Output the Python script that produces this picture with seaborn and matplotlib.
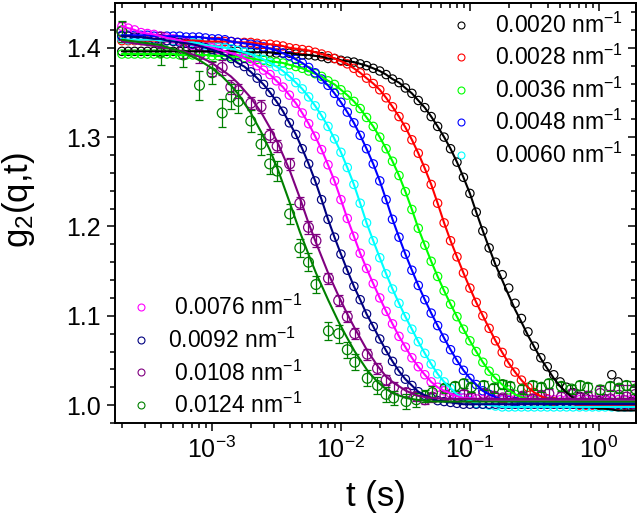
import matplotlib
matplotlib.use('Agg')
import matplotlib.pyplot as plt
from matplotlib.lines import Line2D
from matplotlib.ticker import MultipleLocator, LogLocator, NullFormatter, FormatStrFormatter
import seaborn as sns

# delay times (s) for the densely sampled low-q runs
t_dense = [2.00e-4, 2.24e-4, 2.51e-4, 2.82e-4, 3.16e-4, 3.55e-4, 3.98e-4, 4.47e-4, 5.01e-4, 5.62e-4,
           6.31e-4, 7.08e-4, 7.94e-4, 8.91e-4,
           1.00e-3, 1.12e-3, 1.26e-3, 1.41e-3, 1.58e-3, 1.78e-3, 2.00e-3, 2.24e-3, 2.51e-3, 2.82e-3,
           3.16e-3, 3.55e-3, 3.98e-3, 4.47e-3, 5.01e-3, 5.62e-3, 6.31e-3, 7.08e-3, 7.94e-3, 8.91e-3,
           1.00e-2, 1.12e-2, 1.26e-2, 1.41e-2, 1.58e-2, 1.78e-2, 2.00e-2, 2.24e-2, 2.51e-2, 2.82e-2,
           3.16e-2, 3.55e-2, 3.98e-2, 4.47e-2, 5.01e-2, 5.62e-2, 6.31e-2, 7.08e-2, 7.94e-2, 8.91e-2,
           1.00e-1, 1.12e-1, 1.26e-1, 1.41e-1, 1.58e-1, 1.78e-1, 2.00e-1, 2.24e-1, 2.51e-1, 2.82e-1,
           3.16e-1, 3.55e-1, 3.98e-1, 4.47e-1, 5.01e-1, 5.62e-1, 6.31e-1, 7.08e-1, 7.94e-1, 8.91e-1,
           1.00, 1.12, 1.26, 1.41, 1.58, 1.78, 2.00]

# delay times (s) for the two highest q (multi-tau, with error bars)
t_sparse = [2.0e-4, 4.0e-4, 6.0e-4, 8.0e-4, 1.0e-3, 1.2e-3, 1.4e-3, 1.6e-3,
            2.0e-3, 2.4e-3, 2.8e-3, 3.2e-3, 4.0e-3, 4.8e-3, 5.6e-3, 6.4e-3,
            8.0e-3, 9.6e-3, 0.0112, 0.0128, 0.016, 0.0192, 0.0224, 0.0256,
            0.032, 0.0384, 0.0448, 0.0512, 0.064, 0.0768, 0.0896, 0.1024,
            0.128, 0.1536, 0.1792, 0.2048, 0.256, 0.3072, 0.3584, 0.4096,
            0.512, 0.6144, 0.7168, 0.8192, 1.024, 1.2288, 1.4336, 1.6384, 1.92]

g2_0020 = [1.396, 1.396, 1.396, 1.396, 1.396, 1.396, 1.396, 1.396, 1.396, 1.396,
           1.396, 1.396, 1.396, 1.396, 1.396, 1.396, 1.396, 1.396, 1.396, 1.395,
           1.395, 1.395, 1.395, 1.395, 1.394, 1.394, 1.394, 1.393, 1.392, 1.392,
           1.391, 1.390, 1.388, 1.388, 1.386, 1.385, 1.384, 1.382, 1.380, 1.377,
           1.374, 1.370, 1.365, 1.361, 1.355, 1.349, 1.341, 1.333, 1.323, 1.312,
           1.300, 1.287, 1.272, 1.255, 1.237, 1.216, 1.195, 1.176, 1.157, 1.140,
           1.123, 1.107, 1.093, 1.078, 1.065, 1.052, 1.041, 1.030, 1.021, 1.014,
           1.008, 1.004, 1.000, 0.998, 0.996, 0.996, 0.995, 0.994, 0.994, 0.994,
           0.994]
# measured points of the 0.0020 run deviate from the fit in the tail
g2_0020_tail = [1.160, 1.146,
                1.131, 1.114, 1.097, 1.082, 1.066, 1.053, 1.043, 1.034, 1.026, 1.020,
                1.014, 1.010, 1.008, 1.006, 1.005, 1.007, 1.034, 1.026, 1.006, 1.004,
                1.008]

g2_0028 = [1.408, 1.408, 1.408, 1.408, 1.408, 1.408, 1.408, 1.408, 1.408, 1.408,
           1.408, 1.408, 1.408, 1.407, 1.407, 1.407, 1.407, 1.407, 1.406, 1.406,
           1.406, 1.405, 1.404, 1.404, 1.403, 1.402, 1.400, 1.399, 1.398, 1.397,
           1.395, 1.393, 1.391, 1.388, 1.385, 1.382, 1.377, 1.372, 1.366, 1.360,
           1.353, 1.344, 1.334, 1.323, 1.311, 1.297, 1.282, 1.265, 1.247, 1.226,
           1.204, 1.184, 1.166, 1.148, 1.131, 1.115, 1.100, 1.086, 1.072, 1.059,
           1.047, 1.037, 1.028, 1.020, 1.014, 1.010, 1.007, 1.004, 1.002, 1.002,
           1.001, 1.000, 1.000, 1.000, 1.000, 1.000, 1.000, 1.000, 1.000, 1.000,
           1.000]

g2_0036 = [1.393, 1.393, 1.393, 1.393, 1.393, 1.393, 1.393, 1.393, 1.393, 1.392,
           1.392, 1.392, 1.392, 1.392, 1.391, 1.391, 1.391, 1.390, 1.390, 1.389,
           1.388, 1.387, 1.386, 1.385, 1.384, 1.383, 1.381, 1.379, 1.377, 1.374,
           1.371, 1.368, 1.363, 1.359, 1.353, 1.347, 1.340, 1.332, 1.322, 1.312,
           1.300, 1.287, 1.273, 1.257, 1.239, 1.219, 1.198, 1.179, 1.161, 1.144,
           1.128, 1.113, 1.099, 1.085, 1.072, 1.060, 1.048, 1.038, 1.030, 1.023,
           1.017, 1.012, 1.009, 1.007, 1.005, 1.005, 1.004, 1.003, 1.003, 1.003,
           1.003, 1.003, 1.003, 1.003, 1.003, 1.003, 1.003, 1.003, 1.003, 1.003,
           1.003]

g2_0048 = [1.414, 1.414, 1.414, 1.414, 1.414, 1.413, 1.413, 1.413, 1.413, 1.413,
           1.412, 1.412, 1.412, 1.411, 1.410, 1.410, 1.409, 1.407, 1.406, 1.405,
           1.404, 1.403, 1.401, 1.399, 1.397, 1.394, 1.391, 1.387, 1.383, 1.378,
           1.372, 1.365, 1.358, 1.349, 1.339, 1.328, 1.316, 1.302, 1.287, 1.270,
           1.251, 1.230, 1.208, 1.188, 1.169, 1.151, 1.134, 1.118, 1.103, 1.089,
           1.075, 1.062, 1.050, 1.039, 1.030, 1.023, 1.016, 1.012, 1.009, 1.006,
           1.005, 1.004, 1.003, 1.002, 1.002, 1.002, 1.002, 1.002, 1.002, 1.002,
           1.002, 1.002, 1.002, 1.002, 1.002, 1.002, 1.002, 1.002, 1.002, 1.002,
           1.002]

g2_0060 = [1.410, 1.409, 1.409, 1.409, 1.409, 1.409, 1.408, 1.408, 1.408, 1.407,
           1.406, 1.406, 1.405, 1.403, 1.402, 1.401, 1.400, 1.399, 1.397, 1.395,
           1.393, 1.390, 1.387, 1.383, 1.379, 1.374, 1.368, 1.361, 1.354, 1.345,
           1.335, 1.324, 1.312, 1.298, 1.283, 1.266, 1.247, 1.226, 1.204, 1.184,
           1.165, 1.147, 1.130, 1.114, 1.099, 1.085, 1.071, 1.058, 1.046, 1.035,
           1.026, 1.019, 1.012, 1.008, 1.005, 1.002, 1.001, 1.000, 0.999, 0.998,
           0.998, 0.998, 0.998, 0.998, 0.998, 0.998, 0.998, 0.998, 0.998, 0.998,
           0.998, 0.998, 0.998, 0.998, 0.998, 0.998, 0.998, 0.998, 0.998, 0.998,
           0.998]

g2_0076 = [1.424, 1.422, 1.420, 1.417, 1.416, 1.415, 1.413, 1.411, 1.410, 1.408,
           1.406, 1.403, 1.402, 1.401, 1.400, 1.398, 1.396, 1.394, 1.392, 1.388,
           1.385, 1.380, 1.375, 1.370, 1.363, 1.356, 1.347, 1.338, 1.327, 1.315,
           1.301, 1.286, 1.269, 1.251, 1.230, 1.209, 1.189, 1.170, 1.153, 1.136,
           1.120, 1.105, 1.091, 1.077, 1.065, 1.053, 1.043, 1.034, 1.026, 1.020,
           1.016, 1.013, 1.010, 1.008, 1.008, 1.007, 1.006, 1.006, 1.006, 1.006,
           1.006, 1.006, 1.006, 1.006, 1.006, 1.006, 1.006, 1.006, 1.006, 1.006,
           1.006, 1.006, 1.006, 1.006, 1.006, 1.006, 1.006, 1.006, 1.006, 1.006,
           1.006]

g2_0092 = [1.413, 1.413, 1.412, 1.412, 1.411, 1.410, 1.410, 1.408, 1.407, 1.406,
           1.405, 1.404, 1.402, 1.400, 1.398, 1.395, 1.392, 1.388, 1.383, 1.379,
           1.373, 1.366, 1.359, 1.350, 1.340, 1.329, 1.316, 1.303, 1.287, 1.270,
           1.251, 1.230, 1.208, 1.188, 1.169, 1.151, 1.133, 1.118, 1.102, 1.088,
           1.074, 1.061, 1.049, 1.038, 1.029, 1.022, 1.015, 1.011, 1.008, 1.005,
           1.004, 1.003, 1.002, 1.001, 1.001, 1.001, 1.001, 1.001, 1.001, 1.001,
           1.001, 1.001, 1.001, 1.001, 1.001, 1.001, 1.001, 1.001, 1.001, 1.001,
           1.001, 1.001, 1.001, 1.001, 1.001, 1.001, 1.001, 1.001, 1.001, 1.001,
           1.001]

g2_0108 = [1.419, 1.409, 1.398, 1.392, 1.376, 1.378, 1.356, 1.352,
           1.338, 1.334, 1.302, 1.290, 1.270, 1.226, 1.199, 1.184,
           1.142, 1.117, 1.099, 1.080, 1.057, 1.041, 1.028, 1.020,
           1.014, 1.010, 1.006, 1.009, 1.011, 1.008, 1.012, 1.009,
           1.013, 1.010, 1.008, 1.012, 1.010, 1.007, 1.011, 1.013,
           1.009, 1.012, 1.008, 1.010, 1.013, 1.007, 1.011, 1.009, 1.012]
err_0108 = [0.010, 0.009, 0.009, 0.009, 0.008, 0.008, 0.008, 0.008,
            0.007, 0.007, 0.007, 0.007, 0.007, 0.007, 0.007, 0.007,
            0.006, 0.006, 0.006, 0.006, 0.006, 0.006, 0.006, 0.006,
            0.005, 0.005, 0.005, 0.005, 0.005, 0.005, 0.005, 0.005,
            0.005, 0.005, 0.005, 0.005, 0.005, 0.005, 0.005, 0.005,
            0.006, 0.006, 0.006, 0.006, 0.008, 0.010, 0.012, 0.014, 0.015]
fit_0108 = [1.407, 1.401, 1.396, 1.390, 1.383, 1.375, 1.368, 1.360,
            1.344, 1.328, 1.311, 1.295, 1.263, 1.232, 1.204, 1.182,
            1.147, 1.122, 1.102, 1.086, 1.061, 1.044, 1.032, 1.025,
            1.016, 1.011, 1.009, 1.008, 1.007, 1.007, 1.007, 1.007,
            1.007, 1.007, 1.007, 1.007, 1.007, 1.007, 1.007, 1.007,
            1.007, 1.007, 1.007, 1.007, 1.007, 1.007, 1.007, 1.007, 1.007]

g2_0124 = [1.418, 1.395, 1.392, 1.358, 1.372, 1.327, 1.345, 1.340,
           1.318, 1.292, 1.270, 1.262, 1.214, 1.176, 1.160, 1.135,
           1.083, 1.080, 1.062, 1.048, 1.030, 1.022, 1.012, 1.008,
           1.004, 1.006, 1.010, 1.014, 1.019, 1.021, 1.024, 1.020,
           1.022, 1.019, 1.023, 1.021, 1.018, 1.022, 1.020, 1.024,
           1.021, 1.018, 1.022, 1.020, 1.017, 1.021, 1.019, 1.022, 1.018]
err_0124 = [0.012, 0.014, 0.013, 0.016, 0.013, 0.016, 0.014, 0.013,
            0.012, 0.012, 0.011, 0.011, 0.011, 0.010, 0.010, 0.010,
            0.010, 0.010, 0.009, 0.009, 0.009, 0.009, 0.008, 0.008,
            0.008, 0.008, 0.007, 0.007, 0.005, 0.005, 0.005, 0.005,
            0.005, 0.005, 0.005, 0.005, 0.005, 0.005, 0.005, 0.005,
            0.005, 0.005, 0.005, 0.005, 0.005, 0.005, 0.005, 0.005, 0.005]
fit_0124 = [1.409, 1.403, 1.395, 1.386, 1.377, 1.368, 1.358, 1.348,
            1.327, 1.306, 1.286, 1.266, 1.227, 1.194, 1.169, 1.148,
            1.117, 1.093, 1.075, 1.060, 1.039, 1.026, 1.018, 1.013,
            1.008, 1.006, 1.005, 1.004, 1.004, 1.004, 1.004, 1.004,
            1.004, 1.004, 1.004, 1.004, 1.004, 1.004, 1.004, 1.004,
            1.004, 1.004, 1.004, 1.004, 1.004, 1.004, 1.004, 1.004, 1.004]

q_labels = ['0.0020', '0.0028', '0.0036', '0.0048', '0.0060', '0.0076', '0.0092', '0.0108', '0.0124']
colors = ['#000000', '#FF0000', '#00FF00', '#0000FF', '#00FFFF', '#FF00FF', '#000080', '#800080', '#008000']

sns.set_theme(style='ticks', rc={'axes.edgecolor': 'black', 'xtick.color': 'black', 'ytick.color': 'black',
                                 'text.color': 'black', 'axes.labelcolor': 'black'})
plt.rcParams['font.family'] = ['Liberation Sans', 'DejaVu Sans']
plt.rcParams['mathtext.fontset'] = 'custom'
plt.rcParams['mathtext.rm'] = 'Liberation Sans'
plt.rcParams['mathtext.it'] = 'Liberation Sans:italic'
plt.rcParams['mathtext.bf'] = 'Liberation Sans:bold'

fig = plt.figure(figsize=(6.4, 5.19), dpi=100)
ax = fig.add_axes([0.1797, 0.185, 0.814, 0.809])

# (measured, fit, colour) for the dense runs
g2_0020_meas = g2_0020[:58] + g2_0020_tail
dense = [(g2_0020_meas, g2_0020, colors[0]), (g2_0028, g2_0028, colors[1]),
         (g2_0036, g2_0036, colors[2]), (g2_0048, g2_0048, colors[3]),
         (g2_0060, g2_0060, colors[4]), (g2_0076, g2_0076, colors[5]),
         (g2_0092, g2_0092, colors[6])]
sparse = [(g2_0108, err_0108, fit_0108, colors[7]), (g2_0124, err_0124, fit_0124, colors[8])]

for meas, fit, c in dense:
    sns.scatterplot(x=t_dense, y=meas, ax=ax, s=36, facecolor='none', edgecolor=c, linewidth=0.85, legend=False)
for meas, err, fit, c in sparse:
    sns.scatterplot(x=t_sparse, y=meas, ax=ax, s=50, facecolor='none', edgecolor=c, linewidth=0.9, legend=False)
    ax.errorbar(t_sparse, meas, yerr=err, fmt='none', ecolor=c, elinewidth=0.9, capsize=3, capthick=0.9)

for meas, fit, c in dense:
    sns.lineplot(x=t_dense, y=fit, ax=ax, color=c, linewidth=1.5, estimator=None, sort=False, legend=False)
for meas, err, fit, c in sparse:
    sns.lineplot(x=t_sparse, y=fit, ax=ax, color=c, linewidth=1.5, estimator=None, sort=False, legend=False)

ax.set_xscale('log')
ax.set_xlim(1.77e-4, 1.94)
ax.set_ylim(0.98, 1.45)
ax.xaxis.set_major_locator(LogLocator(base=10, numticks=10))
ax.xaxis.set_minor_locator(LogLocator(base=10, subs=(2, 3, 4, 5, 6, 7, 8, 9), numticks=10))
ax.xaxis.set_minor_formatter(NullFormatter())
ax.yaxis.set_major_locator(MultipleLocator(0.1))
ax.yaxis.set_minor_locator(MultipleLocator(0.02))
ax.yaxis.set_major_formatter(FormatStrFormatter('%.1f'))
ax.tick_params(which='both', direction='out', width=1.1, labelsize=18, pad=4)
ax.tick_params(which='major', length=6)
ax.tick_params(which='minor', length=3.5)
for sp in ax.spines.values():
    sp.set_linewidth(1.4)

# mirrored inward ticks on top and right
secx = ax.secondary_xaxis('top')
secx.xaxis.set_major_locator(LogLocator(base=10, numticks=10))
secx.xaxis.set_minor_locator(LogLocator(base=10, subs=(2, 3, 4, 5, 6, 7, 8, 9), numticks=10))
secx.xaxis.set_major_formatter(NullFormatter())
secx.xaxis.set_minor_formatter(NullFormatter())
secx.tick_params(which='both', direction='in', width=1.1)
secx.tick_params(which='major', length=6)
secx.tick_params(which='minor', length=3.5)
secy = ax.secondary_yaxis('right')
secy.yaxis.set_major_locator(MultipleLocator(0.1))
secy.yaxis.set_minor_locator(MultipleLocator(0.02))
secy.yaxis.set_major_formatter(NullFormatter())
secy.tick_params(which='both', direction='in', width=1.1)
secy.tick_params(which='major', length=6)
secy.tick_params(which='minor', length=3.5)
for s in (secx, secy):
    for sp in s.spines.values():
        sp.set_linewidth(1.4)

ax.set_xlabel('t (s)', fontsize=25)
ax.set_ylabel('g$_2$(q,t)', fontsize=25)
ax.xaxis.set_label_coords(0.5, -0.135)
ax.yaxis.set_label_coords(-0.15, 0.53)

def handle(c):
    return Line2D([], [], marker='o', linestyle='none', markerfacecolor='none', markeredgecolor=c,
                  markersize=5, markeredgewidth=0.8)

labels1 = [q + ' nm$^{-1}$' for q in q_labels[:5]]
leg1 = ax.legend([handle(c) for c in colors[:5]], labels1, loc='upper right', bbox_to_anchor=(0.975, 0.978),
                 frameon=False, fontsize=16.5, handlelength=1.0, handletextpad=0.98, labelspacing=0.32,
                 borderpad=0, borderaxespad=0)
ax.add_artist(leg1)
labels2 = [' 0.0076 nm$^{-1}$', '0.0092 nm$^{-1}$', ' 0.0108 nm$^{-1}$', ' 0.0124 nm$^{-1}$']
ax.legend([handle(c) for c in colors[5:]], labels2, loc='lower left', bbox_to_anchor=(0.027, 0.012),
          frameon=False, fontsize=16.5, handlelength=1.0, handletextpad=0.68, labelspacing=0.32,
          borderpad=0, borderaxespad=0)

fig.savefig('out.png', dpi=100)
